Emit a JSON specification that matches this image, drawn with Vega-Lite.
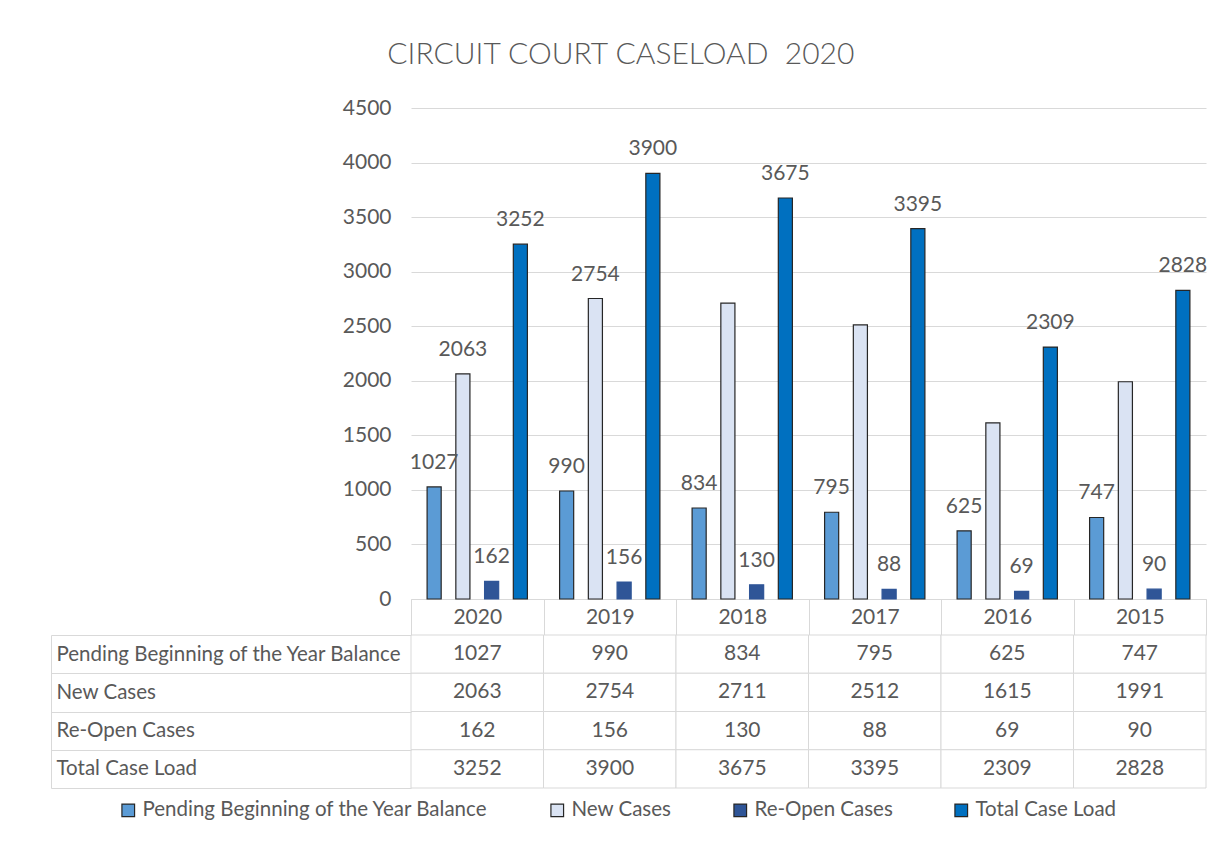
{
  "$schema": "https://vega.github.io/schema/vega-lite/v6.json",
  "padding": {"left": 50, "top": 40, "right": 18, "bottom": 10},
  "background": "white",
  "config": {"font": "Lato", "view": {"stroke": null}},
  "bounds": "flush",
  "spacing": 36,
  "title": {"text": "CIRCUIT COURT CASELOAD\u00a0\u00a02020", "fontSize": 30, "font": "Lato", "fontWeight": 300, "color": "#595959", "anchor": "middle", "offset": 27, "dx": -8},
  "data": {"values": [
    {"year": "2020", "series": "Pending Beginning of the Year Balance", "value": 1027},
    {"year": "2020", "series": "New Cases", "value": 2063},
    {"year": "2020", "series": "Re-Open Cases", "value": 162},
    {"year": "2020", "series": "Total Case Load", "value": 3252},
    {"year": "2019", "series": "Pending Beginning of the Year Balance", "value": 990},
    {"year": "2019", "series": "New Cases", "value": 2754},
    {"year": "2019", "series": "Re-Open Cases", "value": 156},
    {"year": "2019", "series": "Total Case Load", "value": 3900},
    {"year": "2018", "series": "Pending Beginning of the Year Balance", "value": 834},
    {"year": "2018", "series": "New Cases", "value": 2711},
    {"year": "2018", "series": "Re-Open Cases", "value": 130},
    {"year": "2018", "series": "Total Case Load", "value": 3675},
    {"year": "2017", "series": "Pending Beginning of the Year Balance", "value": 795},
    {"year": "2017", "series": "New Cases", "value": 2512},
    {"year": "2017", "series": "Re-Open Cases", "value": 88},
    {"year": "2017", "series": "Total Case Load", "value": 3395},
    {"year": "2016", "series": "Pending Beginning of the Year Balance", "value": 625},
    {"year": "2016", "series": "New Cases", "value": 1615},
    {"year": "2016", "series": "Re-Open Cases", "value": 69},
    {"year": "2016", "series": "Total Case Load", "value": 2309},
    {"year": "2015", "series": "Pending Beginning of the Year Balance", "value": 747},
    {"year": "2015", "series": "New Cases", "value": 1991},
    {"year": "2015", "series": "Re-Open Cases", "value": 90},
    {"year": "2015", "series": "Total Case Load", "value": 2828}
  ]},
  "vconcat": [
    {
      "width": 795,
      "height": 491,
      "encoding": {
        "x": {"field": "year", "type": "nominal", "sort": ["2020", "2019", "2018", "2017", "2016", "2015"],
          "scale": {"paddingInner": 0, "paddingOuter": 0},
          "axis": {"title": null, "orient": "bottom", "tickBand": "extent", "tickSize": 36, "tickColor": "#d9d9d9", "domainColor": "#d9d9d9", "labelPadding": -18, "labelBaseline": "middle", "labelFontSize": 21, "labelColor": "#595959", "labelAngle": 0}},
        "xOffset": {"field": "series", "type": "nominal", "sort": ["Pending Beginning of the Year Balance", "New Cases", "Re-Open Cases", "Total Case Load"], "scale": {"paddingInner": 0.51, "paddingOuter": 0.56}},
        "y": {"field": "value", "type": "quantitative", "scale": {"domain": [0, 4500]},
          "axis": {"title": null, "format": "d", "values": [0, 500, 1000, 1500, 2000, 2500, 3000, 3500, 4000, 4500], "grid": true, "gridColor": "#d9d9d9", "domain": false, "ticks": false, "labelPadding": 20, "labelFontSize": 21, "labelColor": "#595959"}}
      },
      "layer": [
        {
          "mark": {"type": "bar", "strokeWidth": 1.2},
          "encoding": {
            "fill": {"field": "series", "type": "nominal", "sort": ["Pending Beginning of the Year Balance", "New Cases", "Re-Open Cases", "Total Case Load"],
              "scale": {"range": ["#5B9BD5", "#DAE3F3", "#2F5597", "#0070C0"]},
              "legend": {"title": null, "orient": "none", "legendX": -293, "legendY": 692, "direction": "horizontal", "symbolType": "square", "symbolSize": 160, "symbolStrokeWidth": 1.2, "symbolStrokeColor": "#262626", "labelFontSize": 20.5, "labelFontWeight": "normal", "labelColor": "#595959", "columnPadding": 58, "labelOffset": 4, "labelLimit": 500}},
            "stroke": {"field": "series", "type": "nominal", "sort": ["Pending Beginning of the Year Balance", "New Cases", "Re-Open Cases", "Total Case Load"],
              "scale": {"range": ["#262626", "#262626", "#2F5597", "#262626"]},
              "legend": null}
          }
        },
        {
          "transform": [{"filter": "datum.series != 'New Cases' || datum.year == '2020' || datum.year == '2019'"}],
          "mark": {"type": "text", "baseline": "alphabetic", "dy": -18, "fontSize": 21, "color": "#595959"},
          "encoding": {"text": {"field": "value", "type": "quantitative", "format": "d"}}
        }
      ]
    },
    {
      "width": 795,
      "height": 153,
      "encoding": {
        "x": {"field": "year", "type": "nominal", "sort": ["2020", "2019", "2018", "2017", "2016", "2015"], "scale": {"paddingInner": 0, "paddingOuter": 0}, "axis": null},
        "y": {"field": "series", "type": "nominal", "sort": ["Pending Beginning of the Year Balance", "New Cases", "Re-Open Cases", "Total Case Load"],
          "scale": {"paddingInner": 0, "paddingOuter": 0},
          "axis": {"title": null, "offset": 360, "tickBand": "extent", "tickSize": -360, "tickColor": "#d9d9d9", "domainColor": "#d9d9d9", "labelAlign": "left", "labelPadding": 355, "labelFontSize": 20.5, "labelColor": "#595959", "labelLimit": 400}}
      },
      "layer": [
        {"mark": {"type": "rect", "fill": "white", "stroke": "#d9d9d9", "strokeWidth": 1}},
        {"mark": {"type": "text", "fontSize": 21, "color": "#595959"}, "encoding": {"text": {"field": "value", "type": "quantitative", "format": "d"}}}
      ]
    }
  ]
}
